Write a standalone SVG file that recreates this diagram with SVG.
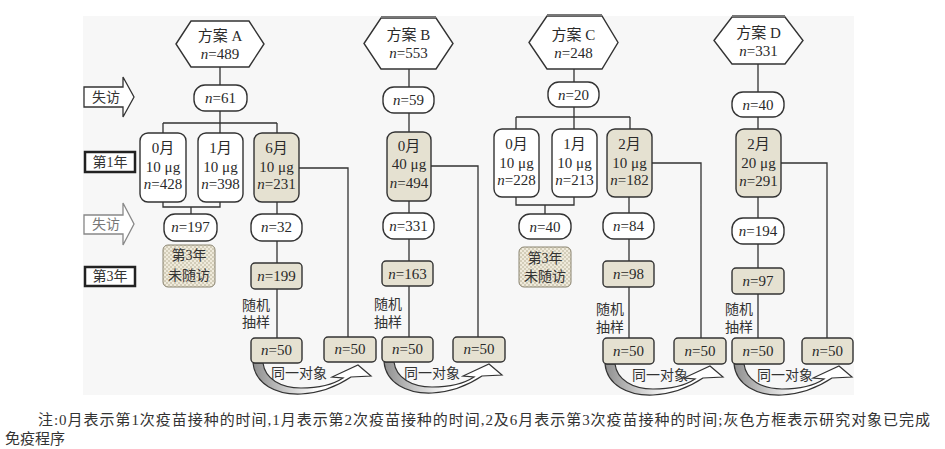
<svg xmlns="http://www.w3.org/2000/svg" xmlns:xlink="http://www.w3.org/1999/xlink" width="945" height="449" viewBox="0 0 945 449">
<style>
.ln{stroke:#333;stroke-width:1.3;fill:none}
.w{fill:#fff;stroke:#333;stroke-width:1.4}
.g{fill:#e5e1d1;stroke:#333;stroke-width:1.4}
.d{fill:url(#dots);stroke:#8a8470;stroke-width:1}
.t{font-family:"Liberation Serif","Noto Sans CJK SC",serif;font-size:15px;fill:#2a2a2a;text-anchor:middle}
.c{font-family:"Liberation Serif","Noto Sans CJK SC",serif;font-size:14px;fill:#333;text-anchor:middle}
.s{font-family:"Liberation Serif","Noto Sans CJK SC",serif;font-size:14px;fill:#333}
.lab{fill:#fff;stroke:#222;stroke-width:2.5}
.arr{fill:url(#band);stroke:#333;stroke-width:1.2}
i,.i{font-style:italic}
</style>
<defs>
<pattern id="dots" width="4" height="4" patternUnits="userSpaceOnUse">
<rect width="4" height="4" fill="#efeadb"/>
<circle cx="1" cy="1" r="0.8" fill="#b1a88e"/>
<circle cx="3" cy="3" r="0.8" fill="#b1a88e"/>
</pattern>
<linearGradient id="band" x1="0" y1="0" x2="1" y2="0">
<stop offset="0" stop-color="#8e8e8e"/>
<stop offset="0.3" stop-color="#cfcfcf"/>
<stop offset="0.55" stop-color="#ffffff"/>
<stop offset="1" stop-color="#ffffff"/>
</linearGradient>
<path id="same" d="M2,0 C4,21 25,32 50,31 C70,30 88,22 100,14 L120,13 L107,2 L81,14 L92,15 C80,23 65,25 50,25 C30,25 14,16 12,0 Z"/>
</defs>
<rect x="83" y="16" width="771" height="379" fill="#f7f7f7"/>

<g id="labels">
<g id="lost1">
<polygon points="84,87 123,87 123,77 134,97 123,117 123,107 84,107" fill="#fff" stroke="#333" stroke-width="1.3"/>
<text class="s" x="92" y="102">失访</text>
</g>
<g id="year1">
<rect class="lab" x="85" y="152" width="50" height="20"/>
<text class="s" x="110" y="167" text-anchor="middle">第1年</text>
</g>
<g id="lost2">
<polygon points="84,215 123,215 123,203 134,224 123,245 123,234 84,234" fill="#fff" stroke="#888" stroke-width="1.3"/>
<text class="s" x="92" y="229" fill="#777" style="fill:#777">失访</text>
</g>
<g id="year3">
<rect class="lab" x="85" y="267" width="50" height="19"/>
<text class="s" x="110" y="281" text-anchor="middle">第3年</text>
</g>
</g>

<g id="connectors">
<path class="ln" d="M220,67V85 M220,111V123 M163,123H277 M163,123V133 M220,123V133 M277,123V133 M163,202V207H220V202 M191,207V214 M277,202V214 M277,241V263 M277,289V338 M299,168H348V337"/>
<path class="ln" d="M409,69V87 M409,113V132 M409,201V213 M409,239V261 M409,286V337 M431,166H478V337"/>
<path class="ln" d="M574,69V82 M574,107V117 M516,117H630 M516,117V129 M574,117V129 M630,117V129 M516,197V205H574V197 M545,205V214 M629,197V213 M629,239V261 M629,287V338 M652,163H701V338"/>
<path class="ln" d="M758,64V92 M758,117V129 M758,197V218 M758,244V268 M758,294V338 M781,163H827V338"/>
<use href="#same" xlink:href="#same" class="arr" x="251" y="363"/>
<use href="#same" xlink:href="#same" class="arr" x="382" y="362"/>
<use href="#same" xlink:href="#same" class="arr" x="603" y="364"/>
<use href="#same" xlink:href="#same" class="arr" x="732" y="364"/>
<text class="s" x="271" y="378">同一对象</text>
<text class="s" x="404" y="378">同一对象</text>
<text class="s" x="632" y="380">同一对象</text>
<text class="s" x="757" y="380">同一对象</text>
<text class="c" x="256" y="310">随机</text>
<text class="c" x="256" y="327">抽样</text>
<text class="c" x="388" y="309">随机</text>
<text class="c" x="388" y="327">抽样</text>
<text class="c" x="610" y="314">随机</text>
<text class="c" x="610" y="332">抽样</text>
<text class="c" x="739" y="314">随机</text>
<text class="c" x="739" y="332">抽样</text>
</g>

<g id="schemeA">
<g id="hexA"><polygon class="w" points="176,44 191,21 249,21 264,44 249,67 191,67"/>
<text class="t" x="220" y="41">方案  A</text><text class="t" x="220" y="59"><tspan class="i">n</tspan>=489</text></g>
<g id="A61"><rect class="w" x="194" y="85" width="53" height="26" rx="11"/><text class="t" x="220.5" y="103"><tspan class="i">n</tspan>=61</text></g>
<g id="A0"><rect class="w" x="140" y="133" width="46" height="69" rx="8"/>
<text class="t" x="163" y="153">0月</text><text class="t" x="163" y="172">10 μg</text><text class="t" x="163" y="189"><tspan class="i">n</tspan>=428</text></g>
<g id="A1"><rect class="w" x="198" y="133" width="45" height="69" rx="8"/>
<text class="t" x="220.5" y="153">1月</text><text class="t" x="220.5" y="172">10 μg</text><text class="t" x="220.5" y="189"><tspan class="i">n</tspan>=398</text></g>
<g id="A6"><rect class="g" x="254" y="133" width="45" height="69" rx="8"/>
<text class="t" x="276.5" y="153">6月</text><text class="t" x="276.5" y="172">10 μg</text><text class="t" x="276.5" y="189"><tspan class="i">n</tspan>=231</text></g>
<g id="A197"><rect class="w" x="164" y="214" width="53" height="27" rx="11"/><text class="t" x="190.5" y="232"><tspan class="i">n</tspan>=197</text></g>
<g id="A3y"><rect class="d" x="163" y="245" width="52" height="42" rx="5"/><text class="c" x="189" y="260">第3年</text><text class="c" x="189" y="280">未随访</text></g>
<g id="A32"><rect class="w" x="251" y="214" width="51" height="27" rx="11"/><text class="t" x="276.5" y="232"><tspan class="i">n</tspan>=32</text></g>
<g id="A199"><rect class="g" x="251" y="263" width="51" height="26" rx="4"/><text class="t" x="276.5" y="281"><tspan class="i">n</tspan>=199</text></g>
<g id="A50a"><rect class="g" x="251" y="338" width="51" height="25" rx="4"/><text class="t" x="276.5" y="355"><tspan class="i">n</tspan>=50</text></g>
<g id="A50b"><rect class="g" x="324" y="337" width="52" height="25" rx="4"/><text class="t" x="350" y="354"><tspan class="i">n</tspan>=50</text></g>
</g>

<g id="schemeB">
<g id="hexB"><polygon class="w" points="364,43.5 381,18 436,18 453,43.5 436,69 381,69"/>
<line x1="381" y1="17" x2="436" y2="17" stroke="#777" stroke-width="2"/>
<text class="t" x="408.5" y="40">方案  B</text><text class="t" x="408.5" y="58"><tspan class="i">n</tspan>=553</text></g>
<g id="B59"><rect class="w" x="383" y="87" width="51" height="26" rx="11"/><text class="t" x="408.5" y="105"><tspan class="i">n</tspan>=59</text></g>
<g id="B0"><rect class="g" x="387" y="132" width="44" height="69" rx="8"/>
<text class="t" x="409" y="151">0月</text><text class="t" x="409" y="169">40 μg</text><text class="t" x="409" y="188"><tspan class="i">n</tspan>=494</text></g>
<g id="B331"><rect class="w" x="383" y="213" width="51" height="26" rx="11"/><text class="t" x="408.5" y="231"><tspan class="i">n</tspan>=331</text></g>
<g id="B163"><rect class="g" x="382" y="261" width="51" height="25" rx="4"/><text class="t" x="407.5" y="279"><tspan class="i">n</tspan>=163</text></g>
<g id="B50a"><rect class="g" x="382" y="337" width="51" height="25" rx="4"/><text class="t" x="407.5" y="354"><tspan class="i">n</tspan>=50</text></g>
<g id="B50b"><rect class="g" x="453" y="337" width="52" height="25" rx="4"/><text class="t" x="479" y="354"><tspan class="i">n</tspan>=50</text></g>
</g>

<g id="schemeC">
<g id="hexC"><polygon class="w" points="529,42.5 547,16 602,16 618,42.5 602,69 547,69"/>
<line x1="547" y1="15" x2="602" y2="15" stroke="#777" stroke-width="2"/>
<text class="t" x="573.5" y="40">方案  C</text><text class="t" x="573.5" y="58"><tspan class="i">n</tspan>=248</text></g>
<g id="C20"><rect class="w" x="548" y="82" width="51" height="25" rx="11"/><text class="t" x="573.5" y="99.5"><tspan class="i">n</tspan>=20</text></g>
<g id="C0"><rect class="w" x="494" y="129" width="45" height="68" rx="8"/>
<text class="t" x="516.5" y="149">0月</text><text class="t" x="516.5" y="168">10 μg</text><text class="t" x="516.5" y="185"><tspan class="i">n</tspan>=228</text></g>
<g id="C1"><rect class="w" x="552" y="129" width="45" height="68" rx="8"/>
<text class="t" x="574.5" y="149">1月</text><text class="t" x="574.5" y="168">10 μg</text><text class="t" x="574.5" y="185"><tspan class="i">n</tspan>=213</text></g>
<g id="C2"><rect class="g" x="607" y="129" width="45" height="68" rx="8"/>
<text class="t" x="629.5" y="149">2月</text><text class="t" x="629.5" y="168">10 μg</text><text class="t" x="629.5" y="185"><tspan class="i">n</tspan>=182</text></g>
<g id="C40"><rect class="w" x="519" y="214" width="52" height="25" rx="11"/><text class="t" x="545" y="231.5"><tspan class="i">n</tspan>=40</text></g>
<g id="C3y"><rect class="d" x="519" y="247" width="52" height="40" rx="5"/><text class="c" x="545" y="263">第3年</text><text class="c" x="545" y="281">未随访</text></g>
<g id="C84"><rect class="w" x="603" y="213" width="51" height="26" rx="11"/><text class="t" x="628.5" y="231"><tspan class="i">n</tspan>=84</text></g>
<g id="C98"><rect class="g" x="603" y="261" width="51" height="26" rx="4"/><text class="t" x="628.5" y="279"><tspan class="i">n</tspan>=98</text></g>
<g id="C50a"><rect class="g" x="603" y="338" width="51" height="26" rx="4"/><text class="t" x="628.5" y="356"><tspan class="i">n</tspan>=50</text></g>
<g id="C50b"><rect class="g" x="674" y="338" width="52" height="26" rx="4"/><text class="t" x="700" y="356"><tspan class="i">n</tspan>=50</text></g>
</g>

<g id="schemeD">
<g id="hexD"><polygon class="w" points="714,40.5 732,17 785,17 803,40.5 785,64 732,64"/>
<line x1="732" y1="16" x2="785" y2="16" stroke="#777" stroke-width="2"/>
<text class="t" x="758.5" y="38">方案  D</text><text class="t" x="758.5" y="56"><tspan class="i">n</tspan>=331</text></g>
<g id="D40"><rect class="w" x="732" y="92" width="52" height="25" rx="11"/><text class="t" x="758" y="109.5"><tspan class="i">n</tspan>=40</text></g>
<g id="D2"><rect class="g" x="736" y="129" width="45" height="68" rx="8"/>
<text class="t" x="758.5" y="149">2月</text><text class="t" x="758.5" y="168">20 μg</text><text class="t" x="758.5" y="186"><tspan class="i">n</tspan>=291</text></g>
<g id="D194"><rect class="w" x="732" y="218" width="52" height="26" rx="11"/><text class="t" x="758" y="236"><tspan class="i">n</tspan>=194</text></g>
<g id="D97"><rect class="g" x="732" y="268" width="52" height="26" rx="4"/><text class="t" x="758" y="286"><tspan class="i">n</tspan>=97</text></g>
<g id="D50a"><rect class="g" x="732" y="338" width="52" height="26" rx="4"/><text class="t" x="758" y="356"><tspan class="i">n</tspan>=50</text></g>
<g id="D50b"><rect class="g" x="802" y="338" width="51" height="26" rx="4"/><text class="t" x="827.5" y="356"><tspan class="i">n</tspan>=50</text></g>
</g>

<g id="note">
<text class="s" x="38" y="425" textLength="892" lengthAdjust="spacing" style="font-size:15px">注:0月表示第1次疫苗接种的时间,1月表示第2次疫苗接种的时间,2及6月表示第3次疫苗接种的时间;灰色方框表示研究对象已完成</text>
<text class="s" x="5" y="444" style="font-size:15px">免疫程序</text>
</g>
</svg>
